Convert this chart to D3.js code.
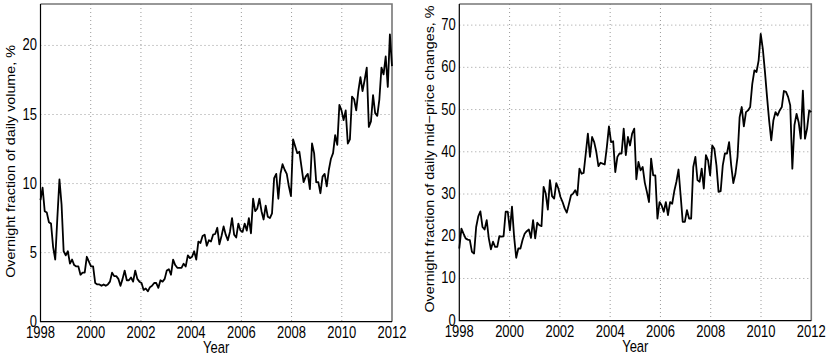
<!DOCTYPE html>
<html lang="en">
	<head>
		<meta charset="UTF-8" />
		<title>Overnight fractions</title>
		<style>
			body { margin: 0; background: #fff; }
			text { font-family: 'Liberation Sans', Arial, sans-serif; font-size: 13px; fill: #000; }
		</style>
	</head>
	<body>
		<svg id="svg" width="830" height="361"></svg>
		<script src="https://d3js.org/d3.v7.min.js"></script>
		<script>
			// monthly values, Jan 1998 .. Dec 2011
			const volumeShare = [
				8.8, 9.7, 8.0, 7.9, 7.2, 7.1, 5.4, 4.5, 7.5, 10.3, 8.5, 5.1,
				4.8, 5.1, 4.2, 4.5, 4.1, 4.0, 4.0, 3.4, 3.55, 3.55, 4.7, 4.35,
				4.0, 4.0, 2.8, 2.7, 2.7, 2.6, 2.7, 2.6, 2.7, 2.9, 3.55, 3.3,
				3.3, 3.1, 2.6, 3.1, 3.7, 3.0, 3.0, 3.2, 2.9, 3.7, 3.1, 2.9,
				2.8, 2.3, 2.4, 2.2, 2.5, 2.6, 2.8, 2.8, 2.45, 3.0, 2.9, 3.1,
				3.7, 3.8, 3.4, 4.5, 4.1, 3.9, 3.9, 3.9, 4.2, 4.0, 4.8, 4.6,
				4.7, 5.1, 4.5, 5.8, 5.7, 6.2, 6.3, 5.5, 5.9, 5.8, 6.3, 6.35,
				6.8, 5.6, 6.2, 6.9, 6.3, 5.9, 6.5, 7.5, 6.3, 6.1, 7.1, 6.6,
				6.5, 7.1, 6.6, 7.5, 6.4, 8.9, 8.0, 8.2, 8.9, 8.0, 7.4, 8.4,
				7.6, 7.5, 7.85, 10.4, 10.7, 8.9, 10.7, 11.4, 11.0, 10.7, 9.8, 9.1,
				13.2, 12.7, 12.2, 12.3, 11.2, 10.1, 10.5, 10.7, 9.6, 12.9, 12.2, 10.1,
				10.1, 9.3, 10.5, 10.7, 9.8, 11.0, 11.8, 12.2, 13.5, 12.8, 15.7, 15.3,
				14.6, 15.3, 12.9, 13.2, 16.3, 16.1, 15.3, 16.7, 17.7, 16.7, 17.5, 18.4,
				14.1, 14.5, 16.4, 15.1, 14.9, 16.1, 18.4, 17.9, 19.2, 17.0, 20.8, 18.5
			];
			const midPriceShare = [
				17.1, 21.8, 20.6, 19.5, 19.2, 19.1, 16.3, 15.9, 22.2, 24.7, 25.9, 22.2,
				21.6, 23.8, 19.5, 16.9, 18.7, 17.5, 17.5, 20.0, 19.9, 20.0, 25.8, 25.8,
				21.4, 27.0, 19.9, 14.9, 17.1, 17.1, 19.1, 20.6, 21.2, 21.6, 19.6, 23.8,
				19.5, 23.2, 22.6, 22.4, 31.7, 30.1, 26.3, 33.3, 29.5, 28.9, 32.6, 31.3,
				29.3, 28.1, 26.6, 25.6, 27.6, 29.7, 30.1, 30.9, 29.7, 36.0, 34.8, 35.0,
				39.6, 44.3, 38.8, 43.5, 42.3, 40.0, 36.6, 37.4, 37.2, 37.0, 41.1, 46.0,
				42.3, 42.5, 35.2, 38.8, 39.6, 39.6, 45.5, 39.2, 43.5, 41.5, 44.3, 45.5,
				33.5, 37.6, 35.6, 36.4, 32.7, 30.5, 28.1, 38.4, 34.4, 34.4, 24.2, 28.1,
				27.3, 25.8, 28.1, 25.0, 28.1, 27.7, 30.7, 32.9, 35.8, 29.7, 23.4, 23.4,
				26.2, 24.2, 24.2, 36.4, 38.8, 33.3, 32.9, 36.0, 31.3, 39.2, 38.0, 34.4,
				41.5, 40.7, 36.8, 30.5, 30.7, 36.8, 39.6, 39.6, 42.3, 36.8, 32.6, 34.8,
				38.8, 48.2, 50.6, 46.0, 49.4, 49.8, 50.6, 56.1, 59.3, 58.9, 61.6, 67.9,
				64.4, 59.0, 53.0, 47.4, 42.7, 47.4, 49.4, 48.6, 49.8, 50.6, 54.4, 54.2,
				53.0, 51.0, 36.0, 46.3, 49.0, 47.0, 43.1, 54.5, 43.1, 45.5, 49.8, 49.4
			];
			const yearTicks = [1998, 2000, 2002, 2004, 2006, 2008, 2010, 2012];
			const volumeTicks = [0, 5, 10, 15, 20];
			const midPriceTicks = [0, 10, 20, 30, 40, 50, 60, 70];

			const svg = d3.select('#svg');
			const stretch = 'scale(1,1.28)'; // text in the picture is taller than wide
			const stretchRot = 'scale(1,1.1)';

			function panel(opts) {
				const { left, right, top, bottom, values, yMax, yTicks, label, labelX, labelY } = opts;
				const x = d3.scaleLinear().domain([1998, 2012]).range([left, right]);
				const y = d3.scaleLinear().domain([0, yMax]).range([bottom, top]);
				const g = svg.append('g');
				const step = 14 / (values.length - 1);

				// grid
				g.selectAll('.gx')
					.data(yearTicks.slice(1, -1))
					.enter()
					.append('line')
					.attr('x1', (d) => x(d))
					.attr('x2', (d) => x(d))
					.attr('y1', top)
					.attr('y2', bottom)
					.attr('stroke', '#9a9a9a')
					.attr('stroke-dasharray', '1,3');
				g.selectAll('.gy')
					.data(yTicks.slice(1))
					.enter()
					.append('line')
					.attr('x1', left)
					.attr('x2', right)
					.attr('y1', (d) => y(d))
					.attr('y2', (d) => y(d))
					.attr('stroke', '#9a9a9a')
					.attr('stroke-dasharray', '1,3');

				// box: top and right edges gray, axes black
				g.append('path')
					.attr('d', `M${left},${top}H${right}V${bottom}`)
					.attr('fill', 'none')
					.attr('stroke', '#777')
					.attr('stroke-width', 1.6);
				g.append('path')
					.attr('d', `M${left},${top}V${bottom}H${right}`)
					.attr('fill', 'none')
					.attr('stroke', '#000')
					.attr('stroke-width', 1.2);

				// series
				const line = d3
					.line()
					.x((d, i) => x(1998 + i * step))
					.y((d) => y(d));
				g.append('path')
					.datum(values)
					.attr('d', line)
					.attr('fill', 'none')
					.attr('stroke', '#000')
					.attr('stroke-width', 1.8)
					.attr('stroke-linejoin', 'round');

				// tick labels
				g.selectAll('.xl')
					.data(yearTicks)
					.enter()
					.append('text')
					.attr('transform', (d) => `translate(${x(d)},${bottom + 16}) ${stretch}`)
					.attr('text-anchor', 'middle')
					.text((d) => d);
				g.selectAll('.yl')
					.data(yTicks)
					.enter()
					.append('text')
					.attr('transform', (d) => `translate(${left - 3.5},${y(d) + 5}) ${stretch}`)
					.attr('text-anchor', 'end')
					.text((d) => d);

				g.append('text')
					.attr('transform', `translate(${(left + right) / 2},${bottom + 31}) ${stretch}`)
					.attr('text-anchor', 'middle')
					.text('Year');
				g.append('text')
					.attr('transform', `translate(${labelX},${labelY}) ${stretchRot} rotate(-90)`)
					.attr('text-anchor', 'middle')
					.text(label);
			}

			panel({
				left: 40.5,
				right: 392,
				top: 4,
				bottom: 321.7,
				values: volumeShare,
				yMax: 23,
				yTicks: volumeTicks,
				label: 'Overnight fraction of daily volume, %',
				labelX: 15,
				labelY: 161.5,
			});
			panel({
				left: 459.3,
				right: 811.3,
				top: 4,
				bottom: 320.7,
				values: midPriceShare,
				yMax: 75,
				yTicks: midPriceTicks,
				label: 'Overnight fraction of daily mid\u2212price changes, %',
				labelX: 434,
				labelY: 159,
			});
		</script>
	</body>
</html>
